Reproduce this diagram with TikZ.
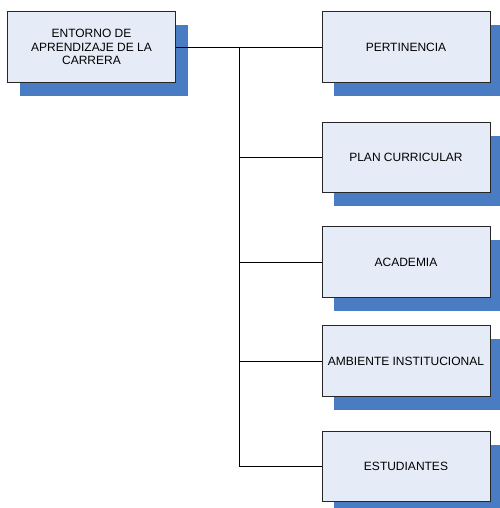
\documentclass[tikz,border=0pt]{standalone}
\usepackage{fontspec}
\setmainfont{Liberation Sans}
\usetikzlibrary{shadows}
\definecolor{boxfill}{RGB}{230,236,247}
\definecolor{shadowblue}{RGB}{74,124,196}
\tikzset{
  areabox/.style={draw=black!85, line width=0.75pt, fill=boxfill,
    minimum width=126pt, minimum height=53pt, inner sep=2pt, align=center,
    font=\fontsize{9}{10}\selectfont,
    general shadow={shadow xshift=9pt, shadow yshift=-10pt, fill=shadowblue}},
  link/.style={line width=0.75pt, black}
}
\begin{document}
\begin{tikzpicture}[x=0.75pt, y=-0.75pt]
        \useasboundingbox (0,0) rectangle (500,508);
        \clip (0,0) rectangle (500,508);
        \coordinate (R) at (91.5,47);
        \coordinate (T) at (239,47);

        \node[areabox] (entorno) at (R) {ENTORNO DE\\APRENDIZAJE DE LA\\CARRERA};
        \node[areabox] (pert) at (406,47) {PERTINENCIA};
        \node[areabox] (plan) at (406,157.5) {PLAN CURRICULAR};
        \node[areabox] (acad) at (406,262) {ACADEMIA};
        \node[areabox] (amb) at (406,361) {AMBIENTE INSTITUCIONAL};
        \node[areabox] (est) at (406,466.5) {ESTUDIANTES};

        \draw[link] (entorno.east) -- (pert.west);
        \foreach \b in {plan,acad,amb,est}
            \draw[link] (T) |- (\b.west);

    \end{tikzpicture}
\end{document}
